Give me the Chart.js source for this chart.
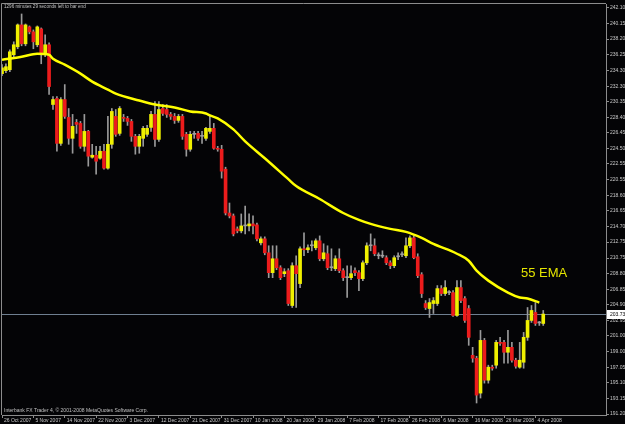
<!DOCTYPE html>
<html>
<head>
<meta charset="utf-8">
<script src="https://cdn.jsdelivr.net/npm/chart.js@4.4.1/dist/chart.umd.min.js"></script>
<style>
  html, body { margin: 0; padding: 0; background: #040406; }
  canvas { display: block; }
</style>
</head>
<body>
<canvas id="chart" width="625" height="424"></canvas>
<script>
// daily candles, 26 Oct 2007 .. 7 Apr 2008
const open = [233.87, 234.24, 234.36, 236.24, 237.24, 239.98, 237.61, 239.73, 239.11, 237.49,
  239.48, 236.24, 237.49, 230.00, 230.75, 225.13, 230.62, 228.38, 225.76, 227.76,
  227.63, 224.76, 226.63, 223.39, 223.64, 223.27, 224.14, 222.02, 225.01, 228.51,
  226.38, 228.38, 228.26, 227.88, 226.01, 224.76, 225.76, 226.26, 227.13, 228.76,
  225.63, 229.50, 229.37, 228.76, 228.51, 228.01, 228.51, 226.26, 224.39, 226.26,
  226.38, 226.01, 225.76, 226.63, 227.01, 224.51, 224.39, 221.89, 216.40, 216.03,
  214.41, 214.16, 214.78, 214.78, 215.03, 214.91, 212.66, 213.16, 211.41, 208.92,
  210.66, 209.54, 208.79, 209.17, 204.80, 209.79, 207.55, 211.91, 211.79, 212.29,
  212.04, 212.91, 210.66, 211.29, 209.54, 209.42, 210.66, 209.17, 208.29, 208.29,
  209.17, 208.92, 208.17, 210.16, 212.29, 212.29, 211.04, 210.98, 210.79, 210.16,
  209.79, 210.91, 211.16, 211.04, 212.29, 213.28, 210.91, 208.67, 205.05, 204.42,
  205.05, 205.05, 206.92, 206.30, 206.42, 206.42, 203.55, 207.05, 205.67, 204.42,
  198.56, 198.19, 193.82, 200.43, 195.44, 197.07, 197.32, 200.18, 200.18, 198.94,
  199.56, 197.94, 197.07, 197.69, 200.81, 202.93, 203.93, 202.62, 202.55]
const high = [234.99, 235.11, 236.86, 237.86, 240.10, 241.35, 240.10, 239.85, 239.35, 239.85,
  239.60, 238.74, 237.74, 231.00, 231.00, 230.87, 232.50, 229.50, 228.76, 228.13,
  227.88, 228.76, 226.76, 225.01, 224.76, 224.76, 225.01, 228.51, 229.50, 229.37,
  229.75, 228.76, 228.51, 228.13, 226.26, 226.26, 227.26, 227.38, 229.13, 230.37,
  230.37, 230.00, 230.00, 229.01, 228.88, 228.76, 228.76, 226.51, 226.63, 226.63,
  226.63, 226.63, 227.13, 228.51, 227.63, 224.76, 224.88, 222.14, 217.65, 216.28,
  214.66, 216.28, 217.27, 216.28, 216.03, 215.15, 213.41, 213.41, 212.29, 212.29,
  212.29, 209.79, 209.42, 209.42, 210.16, 211.04, 212.16, 213.91, 212.41, 212.91,
  213.16, 213.53, 212.54, 212.29, 211.91, 211.04, 211.91, 209.42, 209.79, 209.79,
  209.54, 209.17, 210.41, 212.66, 213.78, 213.16, 211.41, 211.66, 211.04, 210.41,
  211.04, 211.41, 211.54, 213.28, 213.53, 213.53, 211.29, 208.92, 205.42, 205.67,
  205.80, 207.30, 207.30, 207.92, 206.67, 206.67, 207.92, 207.92, 205.92, 204.80,
  199.56, 198.44, 201.68, 200.68, 197.32, 197.32, 200.43, 200.81, 200.43, 201.68,
  200.18, 198.19, 200.18, 201.43, 204.55, 204.80, 205.17, 202.80, 204.18]
const low = [233.62, 234.00, 234.12, 235.99, 236.99, 237.36, 237.36, 238.86, 236.99, 237.24,
  235.11, 235.99, 231.25, 229.37, 224.14, 224.88, 228.26, 225.01, 223.89, 226.38,
  224.51, 224.14, 222.27, 223.27, 221.27, 223.14, 221.89, 221.89, 224.51, 226.01,
  226.13, 227.88, 227.38, 225.38, 223.77, 223.89, 224.76, 226.01, 226.63, 224.76,
  225.38, 228.63, 228.38, 228.13, 227.63, 227.76, 225.63, 223.52, 224.14, 225.76,
  225.51, 225.13, 225.51, 226.38, 224.39, 224.14, 220.77, 216.15, 215.78, 213.53,
  213.91, 213.91, 213.78, 214.16, 213.78, 212.91, 212.41, 211.16, 208.29, 208.29,
  209.29, 208.04, 208.42, 204.80, 204.55, 204.55, 207.05, 211.04, 211.41, 211.66,
  211.79, 210.41, 210.41, 209.29, 209.17, 209.17, 208.92, 207.92, 205.80, 208.04,
  208.54, 206.67, 207.92, 209.92, 211.66, 211.04, 210.66, 210.79, 209.92, 209.42,
  209.54, 210.54, 210.91, 210.79, 212.04, 210.66, 208.29, 205.80, 204.30, 203.30,
  203.80, 204.80, 206.05, 206.05, 206.17, 203.43, 203.43, 205.17, 202.68, 199.81,
  197.69, 192.58, 193.20, 195.07, 195.07, 196.69, 196.94, 199.81, 197.57, 197.57,
  197.69, 196.94, 196.94, 196.94, 200.43, 202.68, 202.30, 202.30, 202.30]
const close = [234.61, 234.74, 236.61, 237.49, 239.98, 237.61, 239.98, 239.11, 237.86, 239.73,
  236.36, 237.49, 232.25, 230.62, 225.13, 230.62, 228.51, 225.76, 227.26, 227.51,
  224.76, 226.63, 223.52, 223.64, 222.89, 224.14, 222.02, 225.01, 229.13, 226.26,
  229.50, 228.26, 227.88, 226.01, 224.76, 226.01, 227.01, 227.01, 228.76, 225.63,
  229.37, 228.88, 228.76, 228.51, 228.01, 228.51, 226.01, 224.39, 226.26, 226.26,
  225.76, 226.01, 227.01, 227.01, 224.51, 224.39, 221.64, 216.40, 216.03, 213.78,
  214.16, 214.78, 214.78, 215.03, 214.78, 213.16, 213.16, 211.41, 208.92, 210.66,
  209.54, 208.29, 209.04, 205.05, 209.79, 208.79, 211.91, 211.79, 212.04, 212.29,
  212.91, 210.66, 211.41, 209.54, 209.54, 210.66, 209.17, 208.29, 208.29, 208.79,
  208.92, 208.17, 210.16, 212.29, 212.29, 211.29, 211.04, 210.98, 210.16, 209.79,
  210.79, 210.91, 211.16, 212.29, 213.28, 210.79, 208.54, 206.30, 204.55, 205.17,
  205.42, 206.92, 206.30, 207.05, 206.42, 203.55, 207.05, 205.42, 202.93, 200.81,
  198.19, 193.57, 200.43, 195.44, 197.07, 196.94, 200.18, 200.06, 198.94, 199.56,
  197.94, 197.19, 197.94, 200.81, 202.93, 204.18, 202.55, 202.62, 203.73]

// 55 EMA at some of the bars
const emaBar = [0, 5, 9, 12, 13, 16, 20, 23, 27, 29, 35, 39, 44, 48, 52, 53, 55, 59, 62, 67,
  73, 75, 81, 87, 91, 94, 99, 103, 107, 110, 116, 119, 121, 124, 129, 132, 134, 137]
const emaValue = [235.61, 235.99, 236.36, 236.24, 235.74, 234.99, 233.87, 232.87, 231.87, 231.37,
  230.50, 230.00, 229.63, 229.13, 228.88, 228.63, 228.25, 226.88, 225.38, 223.26,
  220.64, 219.77, 218.15, 216.40, 215.53, 215.03, 214.41, 214.03, 213.28, 212.53,
  211.29, 210.41, 209.17, 207.92, 206.42, 205.80, 205.67, 205.17]

const dateLabels = ['26 Oct 2007', '5 Nov 2007', '14 Nov 2007', '22 Nov 2007', '3 Dec 2007',
  '12 Dec 2007', '21 Dec 2007', '31 Dec 2007', '10 Jan 2008', '20 Jan 2008', '29 Jan 2008',
  '7 Feb 2008', '17 Feb 2008', '26 Feb 2008', '6 Mar 2008', '16 Mar 2008', '26 Mar 2008', '4 Apr 2008']
const priceTicks = [191.20, 193.15, 195.10, 197.05, 199.00, 201.00, 202.95, 204.90, 206.85,
  208.80, 210.75, 212.75, 214.70, 216.65, 218.60, 220.55, 222.55, 224.50, 226.45, 228.40,
  230.35, 232.30, 234.30, 236.25, 238.20, 240.15, 242.10]
const lastPrice = 203.73
const barsPerLabel = 8

const FONT = 'Liberation Sans'
const GREY = '#8c8c8c'

const bodies = open.map((o, i) => ({ x: i, y: [o, close[i]] }))
const wicks = low.map((l, i) => ({ x: i, y: [l, high[i]] }))
const bodyColors = open.map((o, i) => (close[i] > o ? '#f0f000' : close[i] < o ? '#ec1c1c' : '#a0a0a0'))
const ema = emaBar.map((b, k) => ({ x: b, y: emaValue[k] }))

const overlay = {
  id: 'overlay',
  beforeDatasetsDraw(chart) {
    const { ctx, chartArea: a, scales } = chart
    const py = Math.round(scales.y.getPixelForValue(lastPrice)) + 0.5
    ctx.save()
    ctx.strokeStyle = '#6f7f90'
    ctx.lineWidth = 1
    ctx.beginPath()
    ctx.moveTo(a.left, py)
    ctx.lineTo(a.right, py)
    ctx.stroke()
    ctx.restore()
  },
  afterDraw(chart) {
    const { ctx, chartArea: a, scales } = chart
    ctx.save()
    // frame top + left
    ctx.strokeStyle = GREY
    ctx.lineWidth = 1
    ctx.beginPath()
    ctx.moveTo(a.left - 0.5, a.bottom)
    ctx.lineTo(a.left - 0.5, a.top - 0.5)
    ctx.lineTo(a.right, a.top - 0.5)
    ctx.stroke()

    ctx.textBaseline = 'alphabetic'
    ctx.textAlign = 'left'
    ctx.fillStyle = '#c0c0c0'
    ctx.font = '4.6px ' + FONT
    ctx.fillText('1296 minutes 29 seconds left to bar end', 4, 8)
    ctx.font = '5px ' + FONT
    ctx.fillText('Interbank FX Trader 4, \u00a9 2001-2008 MetaQuotes Software Corp.', 4, 412)

    ctx.fillStyle = '#e4e400'
    ctx.font = '13px ' + FONT
    ctx.fillText('55 EMA', 521, 277)

    // last price tag on the price axis
    const py = Math.round(scales.y.getPixelForValue(lastPrice))
    ctx.fillStyle = '#ffffff'
    ctx.fillRect(a.right + 1, py - 4, 18, 9)
    ctx.fillStyle = '#000000'
    ctx.font = '5px ' + FONT
    ctx.textBaseline = 'middle'
    ctx.fillText(lastPrice.toFixed(2), a.right + 4, py + 0.5)
    ctx.restore()
  }
}

new Chart(document.getElementById('chart'), {
  type: 'bar',
  data: {
    datasets: [
      {
        type: 'line',
        data: ema,
        borderColor: '#ffff00',
        borderWidth: 2.5,
        pointRadius: 0,
        cubicInterpolationMode: 'monotone',
        order: 0,
      },
      {
        data: bodies,
        backgroundColor: bodyColors,
        barThickness: 3,
        minBarLength: 1,
        grouped: false,
        order: 1,
      },
      {
        data: wicks,
        backgroundColor: '#9a9a9a',
        barThickness: 1,
        grouped: false,
        order: 2,
      },
    ],
  },
  options: {
    responsive: false,
    animation: false,
    devicePixelRatio: 1,
    layout: { padding: { left: 2, top: 2, right: 0, bottom: 0 } },
    plugins: {
      legend: { display: false },
      tooltip: { enabled: false },
    },
    scales: {
      x: {
        type: 'linear',
        min: 0,
        max: 154,
        offset: false,
        afterFit: (s) => { s.height = 9 },
        afterBuildTicks: (s) => {
          s.ticks = dateLabels.map((_, k) => ({ value: k * barsPerLabel }))
        },
        grid: { display: true, offset: false, drawOnChartArea: false, drawTicks: true, tickLength: 3, color: GREY },
        border: { display: true, color: GREY },
        ticks: {
          autoSkip: false,
          maxRotation: 0,
          align: 'start',
          labelOffset: 2,
          padding: 0,
          color: '#c8c8c8',
          font: { family: FONT, size: 5 },
          callback: (v, k) => dateLabels[k],
        },
      },
      y: {
        position: 'right',
        min: 191.075,
        max: 242.6,
        afterFit: (s) => { s.width = 19 },
        afterBuildTicks: (s) => {
          s.ticks = priceTicks.map((v) => ({ value: v }))
        },
        grid: { display: true, drawOnChartArea: false, drawTicks: true, tickLength: 3, color: GREY },
        border: { display: true, color: GREY },
        ticks: {
          padding: 1,
          color: '#c8c8c8',
          font: { family: FONT, size: 5 },
          callback: (v) => v.toFixed(2),
        },
      },
    },
  },
  plugins: [overlay],
})
</script>
</body>
</html>
